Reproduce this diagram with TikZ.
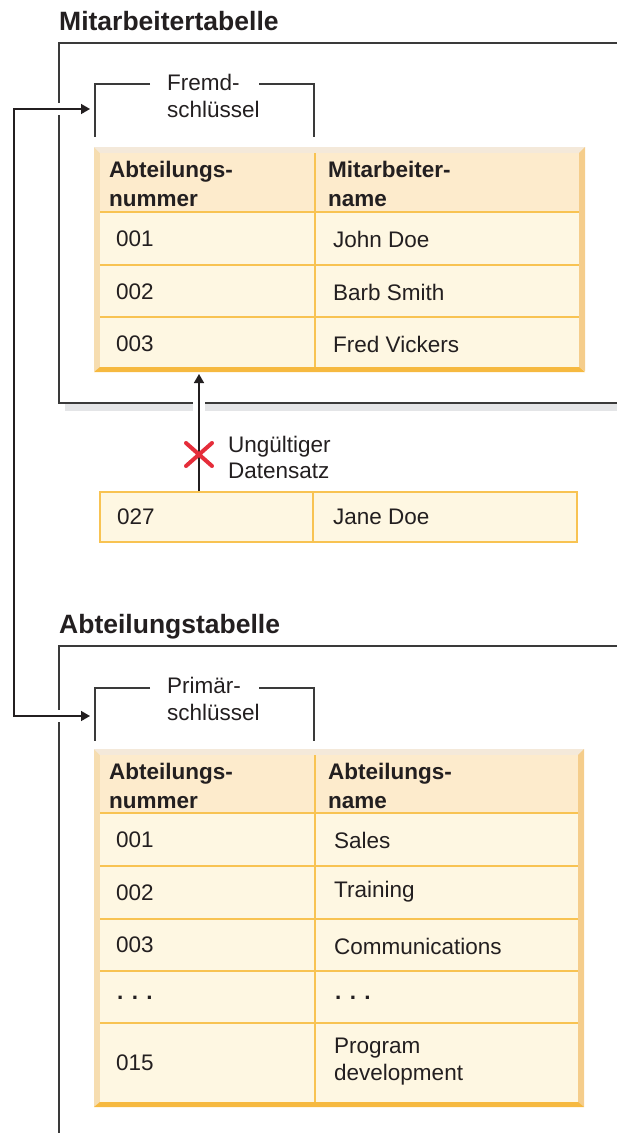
\documentclass[tikz,border=0pt]{standalone}
\usepackage{fontspec}
\setmainfont{Liberation Sans}
\definecolor{ink}{RGB}{35,31,32}
\definecolor{framegray}{RGB}{58,58,58}
\definecolor{shadowgray}{RGB}{228,229,231}
\definecolor{hdfill}{RGB}{253,235,204}
\definecolor{cellfill}{RGB}{254,247,226}
\definecolor{gridorange}{RGB}{248,195,82}
\definecolor{bevelleft}{RGB}{246,221,176}
\definecolor{beveltop}{RGB}{244,233,218}
\definecolor{bevelright}{RGB}{245,205,139}
\definecolor{bevelbot}{RGB}{246,185,64}
\definecolor{xred}{RGB}{229,45,58}
\usetikzlibrary{arrows.meta, positioning}

\begin{document}
\begin{tikzpicture}[x=1pt, y=-1pt,
        title/.style={anchor=base west, inner sep=0pt, text=ink,
                      font=\fontsize{26.5}{30}\selectfont\bfseries},
        hdtext/.style={anchor=base west, inner sep=0pt, align=left, text=ink,
                       font=\fontsize{22.5}{28.5}\selectfont\bfseries},
        celltext/.style={anchor=west, inner sep=0pt, align=left, text=ink,
                         font=\fontsize{22.5}{27}\selectfont},
        keytext/.style={anchor=base west, inner sep=0pt, align=left, text=ink,
                        font=\fontsize{22.5}{26.5}\selectfont},
        frame/.style={draw=framegray, line width=1.5pt},
        bracket/.style={draw=framegray, line width=1.5pt},
        grid/.style={draw=gridorange, line width=1.3pt},
        janecell/.style={draw=gridorange, fill=cellfill, line width=1.3pt},
        link/.style={draw=ink, line width=1.5pt,
                     {Triangle[length=9pt,width=10pt]}-{Triangle[length=9pt,width=10pt]}},
        uplink/.style={draw=ink, line width=1.5pt, -{Triangle[length=9pt,width=10pt]}},
        halo/.style={preaction={draw=white, line width=12pt, -}},
        cross/.style={draw=xred, line width=4pt, line cap=round}
      ]
        \useasboundingbox (0,0) rectangle (617,1133);

        \node[title] (mtitle) at (59,30) {Mitarbeitertabelle};
        \fill[shadowgray] (65,403) rectangle (617,411);
        \draw[frame] (617,43) -- (59,43) -- (59,403) -- (617,403);

        \fill[bevelleft] (94,147) rectangle (585,371);
        \fill[beveltop] (94,147) -- (585,147) -- (579,153) -- (100,153) -- cycle;
        \fill[bevelright] (585,147) -- (585,371) -- (579,367) -- (579,153) -- cycle;
        \fill[bevelbot] (94,372) -- (585,372) -- (579,367) -- (100,367) -- cycle;
        \fill[hdfill] (100,153) rectangle (579,212);
        \fill[cellfill] (100,212) rectangle (579,367);
        \foreach \y in {212,265,317}
          \draw[grid] (100,\y) -- (579,\y);
        \draw[grid] (315,153) -- (315,367);

        \node[keytext] (fk) at (167,117) {Fremd-\\schlüssel};
        \draw[bracket] (150,84) -- (95,84) -- (95,137);
        \draw[bracket] (259,84) -- (314,84) -- (314,137);

        \node[hdtext] (m-h1) at (109,206) {Abteilungs-\\nummer};
        \node[hdtext] (m-h2) at (328,206) {Mitarbeiter-\\name};
        \node[celltext] (m-n1) at (116,239) {001};
        \node[celltext] (m-a1) at (333,239) {John Doe};
        \node[celltext] (m-n2) at (116,292) {002};
        \node[celltext] (m-a2) at (333,292) {Barb Smith};
        \node[celltext] (m-n3) at (116,344) {003};
        \node[celltext] (m-a3) at (333,344) {Fred Vickers};

        \draw[janecell] (100,492) rectangle (313,542);
        \draw[janecell] (313,492) rectangle (577,542);
        \node[celltext] (jnum) at (117,517) {027};
        \node[celltext] (jname) at (333,517) {Jane Doe};

        \coordinate (badfoot) at (199,491);
        \coordinate (badtop) at (199,374);
        \draw[uplink, halo] (badfoot) -- (badtop);
        \draw[cross] (186,443) -- (212,466) (186,466) -- (212,443);
        \node[keytext, font=\fontsize{22.5}{26}\selectfont] (bad) at (228,478) {Ungültiger\\Datensatz};

        \node[title] (atitle) at (59,633) {Abteilungstabelle};
        \draw[frame] (617,646) -- (59,646) -- (59,1133);

        \fill[bevelleft] (94,749) rectangle (584,1107);
        \fill[beveltop] (94,749) -- (584,749) -- (578,755) -- (100,755) -- cycle;
        \fill[bevelright] (584,749) -- (584,1107) -- (578,1103) -- (578,755) -- cycle;
        \fill[bevelbot] (94,1107) -- (584,1107) -- (578,1102) -- (100,1102) -- cycle;
        \fill[hdfill] (100,755) rectangle (578,813);
        \fill[cellfill] (100,813) rectangle (578,1102);
        \foreach \y in {813,866,919,971,1023}
          \draw[grid] (100,\y) -- (578,\y);
        \draw[grid] (315,755) -- (315,1102);

        \node[keytext] (pk) at (167,720) {Primär-\\schlüssel};
        \draw[bracket] (150,688) -- (95,688) -- (95,741);
        \draw[bracket] (259,688) -- (314,688) -- (314,741);

        \node[hdtext] (a-h1) at (109,808) {Abteilungs-\\nummer};
        \node[hdtext] (a-h2) at (328,808) {Abteilungs-\\name};
        \node[celltext] (a-n1) at (116,840) {001};
        \node[celltext] (a-a1) at (334,840) {Sales};
        \node[celltext] (a-n2) at (116,893) {002};
        \node[celltext] (a-a2) at (334,892) {Training};
        \node[celltext] (a-n3) at (116,945) {003};
        \node[celltext] (a-a3) at (334,946) {Communications};
        \node[celltext, font=\fontsize{22.5}{27}\selectfont\bfseries] (a-n4) at (117,998) {. . .};
        \node[celltext, font=\fontsize{22.5}{27}\selectfont\bfseries] (a-a4) at (335,998) {. . .};
        \node[celltext] (a-n5) at (116,1063) {015};
        \node[celltext] (a-a5) at (334,1062) {Program\\development};

        \coordinate (fkin) at (90,109);
        \coordinate (pkin) at (90,716);
        \draw[link, halo] (fkin) -| ([xshift=-76pt]pkin) -- (pkin);
      \end{tikzpicture}
\end{document}
